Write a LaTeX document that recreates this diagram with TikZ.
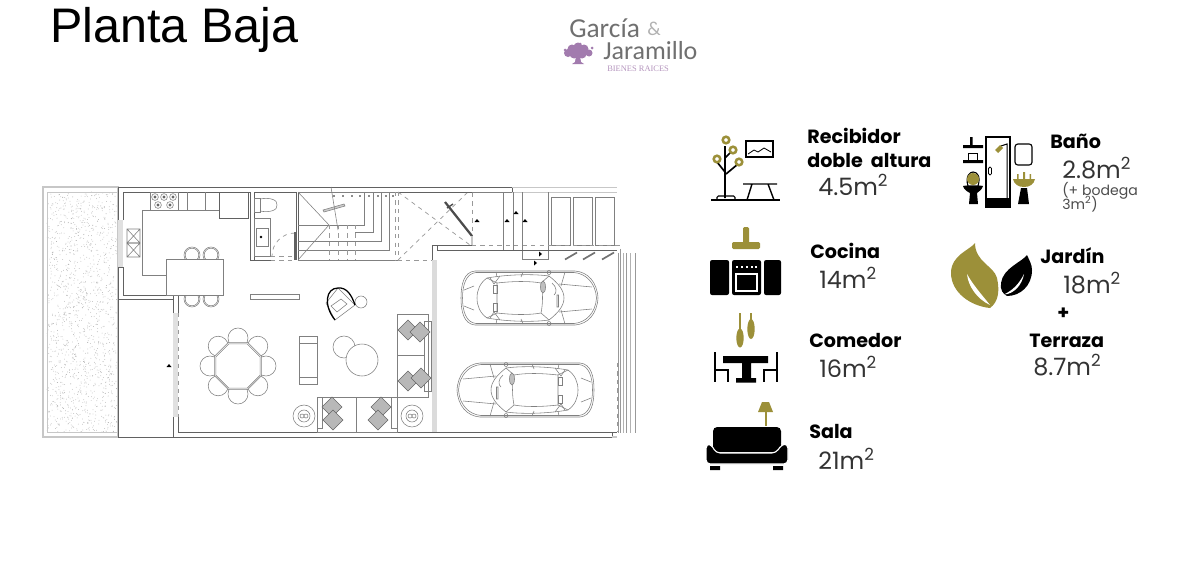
\documentclass[tikz,border=0pt]{standalone}
\usepackage{fontspec}
\setmainfont{Liberation Sans}
\newfontfamily\labelfont{Poppins}
\newfontfamily\valuefont{Poppins}
\newfontfamily\logofont{Carlito}
\newfontfamily\raicesfont{Liberation Serif}
\definecolor{molive}{HTML}{9C9039}
\definecolor{mpurple}{HTML}{A27BAE}
\definecolor{mgray}{HTML}{707070}
\tikzset{plan/.style = {draw=black!50, line width = 0.4pt}}
\tikzset{wall/.style = {draw=black!62, line width = 0.7pt}}
\tikzset{pale/.style = {draw=black!22, line width = 0.8pt}}
\tikzset{dashline/.style = {draw=black!40, line width = 0.5pt, dashed}}
\tikzset{pillow/.style = {draw=black!60, fill=black!28, line width = 0.35pt}}
\tikzset{seat/.style = {plan, fill=white}}
\tikzset{tick/.style = {fill=black, draw=none}}
\tikzset{lbl/.style = {anchor=base west, inner sep=0, font=\labelfont\bfseries\fontsize{13.6}{13.6}\selectfont}}
\tikzset{val/.style = {anchor=base west, inner sep=0, text=black!80, font=\valuefont\fontsize{17}{17}\selectfont}}
\tikzset{note/.style = {anchor=base west, inner sep=0, text=black!70, font=\valuefont\fontsize{10}{10}\selectfont}}
\tikzset{car/.pic = {
  \draw [plan] (-55,-27) -- (45,-27) .. controls (58,-26) and (67,-16) .. (68,0)
    .. controls (67,16) and (58,26) .. (45,27) -- (-55,27) .. controls (-66,26) and (-69,14) .. (-69,0)
    .. controls (-69,-14) and (-66,-26) .. (-55,-27) -- cycle;
  \draw [plan] (-54,-25.5) -- (44,-25.5) .. controls (56,-24.5) and (65.5,-15) .. (66.5,0)
    .. controls (65.5,15) and (56,24.5) .. (44,25.5) -- (-54,25.5) .. controls (-64,24.5) and (-67.5,13) .. (-67.5,0)
    .. controls (-67.5,-13) and (-64,-24.5) .. (-54,-25.5) -- cycle;
  \draw [plan] (-43,-20) .. controls (-50,-15) and (-53,-8) .. (-53,0) .. controls (-53,8) and (-50,15) .. (-43,20);
  \draw [plan] (-43,-20) -- (-33,-15) -- (-33,15) -- (-43,20);
  \draw [plan] (-33,-15) .. controls (-15,-17) and (0,-17) .. (11,-15) .. controls (13,-5) and (13,5) .. (11,15)
    .. controls (0,17) and (-15,17) .. (-33,15);
  \draw [plan] (19,-22) .. controls (28,-15) and (34,-8) .. (34,0) .. controls (34,8) and (28,15) .. (19,22);
  \draw [plan] (-43,-20) .. controls (-20,-24) and (5,-24) .. (19,-22);
  \draw [plan] (-43,20) .. controls (-20,24) and (5,24) .. (19,22);
  \draw [plan] (11,-15) -- (19,-22) (11,15) -- (19,22);
  \draw [plan] (-9,-21) -- (-7,-26) (-9,21) -- (-7,26) (-33,-21) -- (-34,-26) (-33,21) -- (-34,26);
  \draw [plan] (29,-14) -- (62,-11) (29,14) -- (62,11) (35,-26) -- (31,-12) (35,26) -- (31,12);
  \draw [plan] (-66,-8) -- (-56,-12) (-66,8) -- (-56,12);
  \draw [plan] (-40,-20) -- (-36,-14) -- (-30,-22) (-40,20) -- (-36,14) -- (-30,22);
  \draw [plan] (19,-25.5) circle [radius=2] (19,25.5) circle [radius=2];
  \draw [plan] (-37,-13) rectangle (-33,-5) (-37,5) rectangle (-33,13);
  \draw [plan, fill=black!25] (13,-11) ellipse (2.5 and 6);
  \draw [plan] (27,-3) rectangle (28.5,9) (22,-15) .. controls (27,-11) and (27,-5) .. (24,-3);
}}

\begin{document}
\begin{tikzpicture}[x=0.025cm, y=-0.025cm]
  \useasboundingbox [fill=white] (0, 0) rectangle (1200, 560);

  % garden
  \draw [pale] (43, 187) rectangle (118, 437);
  \pgfmathsetseed{7}
  \foreach \i in {1,...,1400} {
    \pgfmathsetmacro{\dotx}{47 + 70 * rnd}
    \pgfmathsetmacro{\doty}{192 + 240 * rnd}
    \fill [black!32] (\dotx, \doty) circle [radius=0.4];
  }
  \draw [pale, line width=0.4pt] (47, 192) rectangle (118, 432);

  % outer walls
  \draw [wall] (118, 220) -- (118, 187) -- (512, 187) -- (512, 192) -- (298, 192);
  \draw [wall] (118, 267) -- (118, 437) -- (612, 437) -- (612, 432);
  \draw [wall] (123, 220) -- (123, 192) -- (250, 192) (118, 220) -- (123, 220) (118, 267) -- (123, 267);
  \fill [black!12] (118, 220) rectangle (123, 267);
  \draw [wall] (123, 267) -- (123, 295) -- (173, 295) -- (173, 313);
  \draw [wall] (118, 299) -- (173, 299);
  \draw [wall] (178, 295) -- (178, 313) (173, 417) -- (173, 437) (178, 417) -- (178, 432) -- (432, 432);
  \fill [black!12] (173, 313) rectangle (178, 417);
  \draw [dashline] (178, 313) -- (178, 417);

  % kitchen
  \draw [plan] (142, 275) -- (142, 210) -- (219, 210);
  \draw [plan] (142, 275) -- (166, 275);
  \draw [plan] (187, 192) -- (187, 210) (205, 192) -- (205, 210);
  \draw [plan] (150, 192) rectangle (178, 210);
  \foreach \bx/\by in {155/197, 164/197, 173/197, 158/205, 170/205} {
    \draw [plan] (\bx, \by) circle [radius=3.4];
    \fill [black!60] (\bx, \by) circle [radius=1.6];
  }
  \draw [wall] (219, 192) rectangle (248, 218);
  \draw [plan] (127, 229) rectangle (140, 243) (127, 229) -- (140, 243) (127, 243) -- (140, 229);
  \draw [plan] (127, 243) rectangle (140, 257) (127, 243) -- (140, 257) (127, 257) -- (140, 243);
  \foreach \sx/\sy in {192/255, 211/255, 192/299, 211/299} {
    \draw [plan] (\sx, \sy) circle [radius=8];
    \draw [plan] (\sx, \sy) circle [radius=6.8];
  }
  \draw [plan, fill=white] (166, 259) rectangle (223, 295);

  % bathroom
  \draw [wall] (250, 192) -- (250, 260) -- (271, 260);
  \draw [wall] (254, 260) -- (254, 192) -- (296, 192) -- (296, 260);
  \draw [plan] (254, 198) rectangle (260, 212);
  \draw [plan] (260, 199) .. controls (270, 197) and (278, 200) .. (277, 205) .. controls (278, 210) and (270, 213) .. (260, 211);
  \draw [plan] (254, 218) rectangle (270, 256);
  \draw [plan] (256, 228) rectangle (268, 246);
  \fill [black] (261, 237) circle [radius=1.3];
  \draw [dashline] (295, 233) arc [start angle=-90, end angle=-180, radius=23];
  \draw [dashline] (271, 256) -- (295, 256) (271, 260) -- (295, 260);
  \draw [wall, line width=1pt] (295, 232) -- (295, 260);

  % stairs
  \draw [wall] (298, 192) -- (298, 260);
  \draw [plan] (298, 192) -- (329, 225) -- (298, 260);
  \draw [plan] (298, 260) -- (398, 260) (298, 192) -- (398, 192);
  \draw [plan] (298, 225) -- (364, 225) -- (364, 192);
  \draw [plan] (355, 232) -- (373, 232) -- (373, 192);
  \draw [plan] (298, 241) -- (381, 241) -- (381, 192);
  \draw [plan] (298, 250) -- (389, 250) -- (389, 192);
  \foreach \sx in {329, 338, 347, 355} {
    \draw [dashline] (\sx, 225) -- (\sx, 260);
  }
  \foreach \sx in {333, 342, 351, 359, 368, 377, 385, 392} {
    \fill [black!45] (\sx, 195) rectangle (\sx + 2, 197);
  }
  \draw [plan, fill=black!20] (323, 210) -- (344, 204) -- (345, 206) -- (324, 212) -- cycle;
  \draw [plan] (331, 187) -- (338, 230);
  \draw [dashline] (395, 192) -- (395, 260);
  \draw [dashline] (398, 192) -- (398, 260) -- (432, 260);
  \draw [dashline] (398, 192) -- (470, 245) (398, 260) -- (467, 193);

  % entry
  \draw [dashline] (472, 193) -- (472, 236);
  \draw [draw=black!70, line width=1.6pt] (445, 202) -- (472, 236);
  \draw [draw=black!70, line width=1pt] (447, 208) -- (453, 204);
  \draw [pale] (472, 236) -- (472, 245);
  \draw [plan] (472, 192) -- (512, 192);
  \draw [pale, line width=0.5pt] (512, 192) -- (617, 192) (512, 187) -- (617, 187);
  \draw [plan] (503, 192) -- (503, 250) (513, 192) -- (513, 250);
  \draw [plan] (522, 192) -- (522, 259) -- (548, 259) -- (548, 192);
  \foreach \px in {551, 573, 595} {
    \draw [plan] (\px, 197) rectangle (\px + 19.5, 245);
  }
  \foreach \mx/\my in {477/221, 507/221, 516/213, 525/221, 169/366} {
    \fill [tick] (\mx - 2.5, \my + 1) -- (\mx, \my - 2) -- (\mx + 2.5, \my + 1) -- cycle;
  }
  \foreach \mx/\my in {539/254, 534/263} {
    \fill [tick] (\mx, \my - 2.5) -- (\mx + 3, \my) -- (\mx, \my + 2.5) -- cycle;
  }
  \foreach \mx in {571, 589, 608} {
    \draw [draw=black!55, line width=1.2pt] (\mx - 6, 259.5) -- (\mx + 6, 252.5);
  }

  % garage
  \draw [wall] (432, 260) -- (432, 245) -- (472, 245);
  \draw [dashline] (472, 245) -- (620, 245) -- (620, 253);
  \draw [wall] (437, 250) -- (617, 250);
  \draw [wall] (437, 245) -- (437, 250);
  \fill [black!14] (432, 260) rectangle (437, 432);
  \foreach \lx/\lc in {618/40, 620/40, 623/30, 626/40, 630/30, 635/40} {
    \draw [draw=black!\lc, line width=0.6pt] (\lx, 253) -- (\lx, 433);
  }
  \draw [dashline] (617, 363) -- (617, 432);
  \draw [wall] (432, 432) -- (617, 432);
  \draw [pale] (612, 437) -- (617, 437);
  \pic at (530, 298) {car};
  \pic [xscale=-1] at (525, 390) {car};

  % dining
  \foreach \ang in {0, 45, ..., 315} {
    \draw [seat] ({238 + 28 * cos(\ang)}, {366 + 28 * sin(\ang)}) circle [radius=10];
  }
  \draw [plan, fill=white, shift={(238, 366)}] (22.5:25.5) -- (67.5:25.5) -- (112.5:25.5) -- (157.5:25.5) -- (202.5:25.5) -- (247.5:25.5) -- (292.5:25.5) -- (337.5:25.5) -- cycle;
  \draw [plan, shift={(238, 366)}] (22.5:24) -- (67.5:24) -- (112.5:24) -- (157.5:24) -- (202.5:24) -- (247.5:24) -- (292.5:24) -- (337.5:24) -- cycle;

  % living room
  \draw [plan] (250, 294) rectangle (299, 299);
  \draw [plan] (299, 336) rectangle (317, 384) (299, 343) -- (317, 343) (299, 377) -- (317, 377);
  \draw [plan] (344, 347) circle [radius=11];
  \draw [seat] (362, 360) circle [radius=16];
  \draw [plan] (361, 302) circle [radius=6];
  \draw [plan, fill=white] (335, 320) -- (355, 305) -- (338, 288) -- (326, 303) -- cycle;
  \draw [draw=black, line width=0.9pt] (335, 320) .. controls (323, 305) and (326, 288) .. (338, 288) .. controls (347, 287) and (352, 296) .. (355, 305);
  \draw [plan] (331, 306) -- (341, 299) -- (347, 304) -- (337, 312) -- cycle;
  % sofas
  \draw [plan] (397, 314) rectangle (428, 397) (397, 355) -- (424, 355);
  \draw [plan] (424, 321) rectangle (431, 391);
  \draw [plan] (317, 397) rectangle (397, 432) (356, 397) -- (356, 432);
  \draw [plan] (317, 397) rectangle (322, 428) (391, 397) rectangle (397, 428);
  \foreach \px/\py in {408/330, 420/332, 408/381, 421/378, 332/407, 333/420, 381/407, 378/420} {
    \draw [pillow] (\px - 10, \py) -- (\px, \py - 10) -- (\px + 10, \py) -- (\px, \py + 10) -- cycle;
  }
  \foreach \tx in {304, 412} {
    \draw [plan] (\tx, 416) circle [radius=11] (\tx, 416) circle [radius=6];
    \draw [plan] (\tx - 2, 416) circle [radius=2] (\tx + 2, 416) circle [radius=2];
  }

  % title and logo
  \node (title) [anchor=base west, inner sep=0, font=\fontsize{34.5}{34.5}\selectfont] at (50, 42) {Planta Baja};
  \node (garcia) [anchor=base west, inner sep=0, text=mgray, font=\logofont\fontsize{19.5}{19.5}\selectfont] at (569, 37) {García};
  \node (amp) [anchor=base west, inner sep=0, text=black!30, font=\logofont\fontsize{14}{14}\selectfont] at (647, 35) {\&};
  \node (jaramillo) [anchor=base west, inner sep=0, text=mgray, font=\logofont\fontsize{18.5}{18.5}\selectfont] at (603, 59) {Jaramillo};
  \node (raices) [anchor=base west, inner sep=0, text=mpurple!80, font=\raicesfont\fontsize{6}{6}\selectfont] at (607, 71.5) {BIENES RAICES};
  \foreach \tx/\ty/\tr in {568/53/4, 572/49/4.5, 578/47/4.5, 584/49/4.5, 589/53/3.5, 574/54/4.5, 582/54/4.5, 578/51/5, 565/50/1.5, 592/48/1.5, 580/44/1.5} {
    \fill [mpurple] (\tx, \ty) circle [radius=\tr];
  }
  \fill [mpurple] (576, 56) -- (580, 56) -- (581, 62) -- (584, 64) -- (572, 64) -- (575, 62) -- cycle;

  % recibidor icon
  \draw [draw=black, line width=1pt] (711, 200) -- (780, 200);
  \draw [draw=black, line width=1.2pt] (725, 146) -- (725, 198) (725, 172) -- (717, 162) (726, 174) -- (738, 164) (725, 158) -- (731, 152);
  \draw [draw=black, line width=0.8pt, rounded corners=1] (717, 200) -- (717, 196) -- (735, 196) -- (735, 200);
  \foreach \cx/\cy in {726/140, 733/150, 717/159, 739/162} {
    \draw [draw=molive, line width=1.8pt] (\cx, \cy) circle [radius=3.3];
  }
  \draw [draw=black, line width=1pt] (746, 141) rectangle (773, 157);
  \draw [draw=black, line width=0.6pt] (748, 154) -- (754, 150) -- (758, 152) -- (764, 148) -- (771, 152);
  \draw [draw=black, line width=1pt] (743, 184) -- (777, 184) (752, 184) -- (747, 200) (768, 184) -- (774, 200);
  % cocina icon
  \fill [molive, rounded corners=1] (743, 227) rectangle (749, 244) (732, 242) rectangle (760, 249);
  \fill [black, rounded corners=1.5] (710, 260) rectangle (729, 295) (732, 260) rectangle (761, 295) (764, 260) rectangle (781, 295);
  \foreach \dx in {737, 742, 747, 752, 756} {
    \fill [white] (\dx - 0.7, 266) rectangle (\dx + 0.7, 268);
  }
  \draw [draw=white, line width=1pt] (736, 274) rectangle (757, 291);
  % comedor icon
  \draw [draw=molive, line width=0.8pt] (740, 313) -- (740, 330) (751, 313) -- (751, 322);
  \fill [molive] (740, 338) ellipse (3.7 and 9.5) (751, 329) ellipse (3.7 and 10);
  \fill [black] (723, 356) rectangle (768, 363) (742, 363) rectangle (751, 378) (736, 378) rectangle (756, 382.5);
  \draw [draw=black, line width=1.2pt] (715, 352) -- (715, 382) (715, 370) -- (728, 370) -- (728, 382);
  \draw [draw=black, line width=1.2pt] (777, 352) -- (777, 382) (777, 370) -- (764, 370) -- (764, 382);
  % sala icon
  \fill [molive] (758, 412) -- (773, 412) -- (769, 402) -- (762, 402) -- cycle;
  \fill [molive] (764.5, 412) rectangle (767, 426);
  \fill [black, rounded corners=3] (713, 427) rectangle (781, 452);
  \draw [draw=white, line width=0.8pt, fill=black, rounded corners=3] (706, 444) -- (711, 444) -- (716, 453) -- (776, 453) -- (782, 444) -- (788, 444) -- (788, 464) -- (706, 464) -- cycle;
  \fill [black] (710, 466) rectangle (720, 470) (773, 466) rectangle (783, 470);
  % bano icon
  \draw [draw=black, line width=1pt] (986, 137) rectangle (1010, 207);
  \fill [black] (986, 198) rectangle (1010, 207);
  \draw [draw=black, line width=0.7pt] (1001, 146) -- (1007, 144) -- (1007, 198);
  \fill [molive] (995, 150) -- (1000, 145) -- (1003, 148) -- (998, 153) -- cycle;
  \draw [draw=black, line width=0.6pt, rounded corners=1] (988.5, 167) rectangle (991.5, 175);
  \fill [black] (963, 145) rectangle (983, 148) (963, 160) rectangle (983, 163) (970, 137) rectangle (972.5, 145);
  \draw [draw=black, line width=0.7pt] (968, 153) rectangle (977, 160);
  \draw [draw=black, line width=0.8pt] (968, 186) .. controls (965, 176) and (970, 172) .. (973, 172) .. controls (977, 172) and (981, 176) .. (978, 186);
  \fill [molive] (973, 179) circle [radius=6];
  \fill [black] (963, 186) .. controls (968, 185) and (978, 185) .. (983, 186) .. controls (982, 190) and (978, 192) .. (977, 193) -- (978, 204) -- (969, 204) -- (970, 193) .. controls (968, 192) and (964, 190) .. (963, 186) -- cycle;
  \draw [draw=black, line width=0.8pt, rounded corners=2] (1015, 144) rectangle (1032, 165);
  \fill [molive] (1013, 179) -- (1035, 179) .. controls (1034, 184) and (1030, 187) .. (1024, 187) .. controls (1018, 187) and (1014, 184) .. (1013, 179) -- cycle;
  \fill [molive] (1023, 172) rectangle (1025, 179) (1017, 174) rectangle (1018.5, 179) (1029.5, 174) rectangle (1031, 179);
  \fill [black] (1021, 188) -- (1027, 188) -- (1029, 204) -- (1018, 204) -- cycle;
  % leaves
  \fill [molive] (975, 243) .. controls (970, 250) and (951, 255) .. (951, 273) .. controls (951, 292) and (970, 306) .. (990, 308) .. controls (998, 302) and (1000, 292) .. (997, 278) .. controls (994, 266) and (975, 262) .. (975, 243) -- cycle;
  \fill [white] (967, 274) .. controls (968, 286) and (977, 299) .. (990, 305) .. controls (982, 295) and (973, 285) .. (967, 274) -- cycle;
  \fill [black] (1027, 255) .. controls (1022, 262) and (1003, 268) .. (1001, 283) .. controls (1000, 290) and (1003, 294) .. (1007, 296) .. controls (1020, 296) and (1032, 286) .. (1032, 270) .. controls (1032, 264) and (1029, 260) .. (1027, 255) -- cycle;
  \fill [white] (1004, 294.5) .. controls (1014, 294) and (1022, 285) .. (1024, 274) .. controls (1019, 284) and (1013, 290) .. (1004, 294.5) -- cycle;

  % labels
  \node (recibidor) [lbl] at (807, 143) {Recibidor};
  \node (doble) [lbl] at (807, 167) {doble\ \ altura};
  \node (recibidorval) [val] at (818, 195) {4.5m\textsuperscript{2}};
  \node (cocina) [lbl] at (810, 258) {Cocina};
  \node (cocinaval) [val] at (819, 288) {14m\textsuperscript{2}};
  \node (comedor) [lbl] at (809, 347) {Comedor};
  \node (comedorval) [val] at (819, 377) {16m\textsuperscript{2}};
  \node (sala) [lbl] at (809, 438) {Sala};
  \node (salaval) [val] at (818, 469) {21m\textsuperscript{2}};
  \node (bano) [lbl] at (1050, 148) {Baño};
  \node (banoval) [val] at (1062, 178) {2.8m\textsuperscript{2}};
  \node (bodega) [note] at (1062, 195) {(+ bodega};
  \node (bodegaval) [note] at (1062, 209) {3m\textsuperscript{2})};
  \node (jardin) [lbl] at (1040, 263) {Jardín};
  \node (jardinval) [val] at (1063, 293) {18m\textsuperscript{2}};
  \node (plus) [lbl] at (1057, 319) {+};
  \node (terraza) [lbl] at (1029, 347) {Terraza};
  \node (terrazaval) [val] at (1033, 375) {8.7m\textsuperscript{2}};
\end{tikzpicture}
\end{document}
